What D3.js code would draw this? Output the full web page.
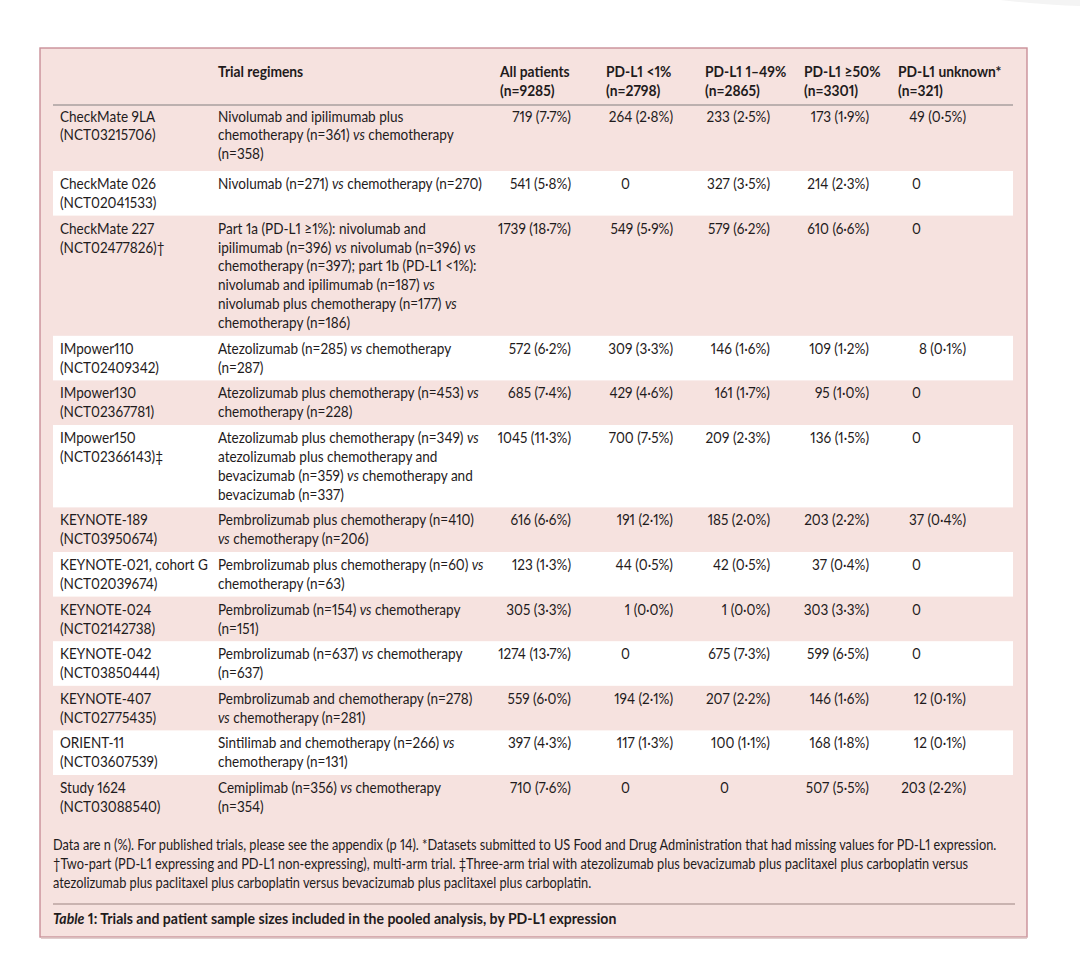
<!DOCTYPE html>
<html>
<head>
<meta charset="utf-8">
<script src="https://cdn.jsdelivr.net/npm/d3@7"></script>
<style>
  html, body { margin: 0; padding: 0; background: #ffffff; }
  svg { display: block; }
  text { font-family: Lato, "Noto Sans", sans-serif; fill: #1f1b1c;
         font-variant-numeric: proportional-nums; font-feature-settings: "pnum" 1; }
</style>
</head>
<body>
<svg id="chart" width="1080" height="954"></svg>
<script>
// ---------------- DATA ----------------
const trials = ["CheckMate 9LA", "CheckMate 026", "CheckMate 227", "IMpower110", "IMpower130", "IMpower150",
  "KEYNOTE-189", "KEYNOTE-021, cohort G", "KEYNOTE-024", "KEYNOTE-042", "KEYNOTE-407", "ORIENT-11", "Study 1624"];
const trialIds = ["(NCT03215706)", "(NCT02041533)", "(NCT02477826)†", "(NCT02409342)", "(NCT02367781)", "(NCT02366143)‡",
  "(NCT03950674)", "(NCT02039674)", "(NCT02142738)", "(NCT03850444)", "(NCT02775435)", "(NCT03607539)", "(NCT03088540)"];
const regimens = [
  ["Nivolumab and ipilimumab plus", "chemotherapy (n=361) vs chemotherapy", "(n=358)"],
  ["Nivolumab (n=271) vs chemotherapy (n=270)"],
  ["Part 1a (PD-L1 ≥1%): nivolumab and", "ipilimumab (n=396) vs nivolumab (n=396) vs", "chemotherapy (n=397); part 1b (PD-L1 <1%):",
   "nivolumab and ipilimumab (n=187) vs", "nivolumab plus chemotherapy (n=177) vs", "chemotherapy (n=186)"],
  ["Atezolizumab (n=285) vs chemotherapy", "(n=287)"],
  ["Atezolizumab plus chemotherapy (n=453) vs", "chemotherapy (n=228)"],
  ["Atezolizumab plus chemotherapy (n=349) vs", "atezolizumab plus chemotherapy and", "bevacizumab (n=359) vs chemotherapy and", "bevacizumab (n=337)"],
  ["Pembrolizumab plus chemotherapy (n=410)", "vs chemotherapy (n=206)"],
  ["Pembrolizumab plus chemotherapy (n=60) vs", "chemotherapy (n=63)"],
  ["Pembrolizumab (n=154) vs chemotherapy", "(n=151)"],
  ["Pembrolizumab (n=637) vs chemotherapy", "(n=637)"],
  ["Pembrolizumab and chemotherapy (n=278)", "vs chemotherapy (n=281)"],
  ["Sintilimab and chemotherapy (n=266) vs", "chemotherapy (n=131)"],
  ["Cemiplimab (n=356) vs chemotherapy", "(n=354)"]
];
const allN    = [719, 541, 1739, 572, 685, 1045, 616, 123, 305, 1274, 559, 397, 710];
const allPct  = [7.7, 5.8, 18.7, 6.2, 7.4, 11.3, 6.6, 1.3, 3.3, 13.7, 6.0, 4.3, 7.6];
const lt1N    = [264, 0, 549, 309, 429, 700, 191, 44, 1, 0, 194, 117, 0];
const lt1Pct  = [2.8, null, 5.9, 3.3, 4.6, 7.5, 2.1, 0.5, 0.0, null, 2.1, 1.3, null];
const midN    = [233, 327, 579, 146, 161, 209, 185, 42, 1, 675, 207, 100, 0];
const midPct  = [2.5, 3.5, 6.2, 1.6, 1.7, 2.3, 2.0, 0.5, 0.0, 7.3, 2.2, 1.1, null];
const hiN     = [173, 214, 610, 109, 95, 136, 203, 37, 303, 599, 146, 168, 507];
const hiPct   = [1.9, 2.3, 6.6, 1.2, 1.0, 1.5, 2.2, 0.4, 3.3, 6.5, 1.6, 1.8, 5.5];
const unkN    = [49, 0, 0, 8, 0, 0, 37, 0, 0, 0, 12, 12, 203];
const unkPct  = [0.5, null, null, 0.1, null, null, 0.4, null, null, null, 0.1, 0.1, 2.2];

const columnKeys = ["all", "lt1", "mid", "hi", "unk"];
const columnHeads = [["All patients", "(n=9285)"], ["PD-L1 <1%", "(n=2798)"], ["PD-L1 1–49%", "(n=2865)"],
  ["PD-L1 ≥50%", "(n=3301)"], ["PD-L1 unknown*", "(n=321)"]];
const regimenHead = "Trial regimens";
const footnotes = [
  "Data are n (%). For published trials, please see the appendix (p 14). *Datasets submitted to US Food and Drug Administration that had missing values for PD-L1 expression.",
  "†Two-part (PD-L1 expressing and PD-L1 non-expressing), multi-arm trial. ‡Three-arm trial with atezolizumab plus bevacizumab plus paclitaxel plus carboplatin versus",
  "atezolizumab plus paclitaxel plus carboplatin versus bevacizumab plus paclitaxel plus carboplatin."
];
const captionLabel = "Table";
const captionText = " 1: Trials and patient sample sizes included in the pooled analysis, by PD-L1 expression";

// ---------------- LAYOUT ----------------
const svg = d3.select("#chart");
const box = { x: 40, y: 48, w: 987, h: 889 };
const innerL = 53, innerR = 1013;
const LH = 18.9, PAD = 6.8;
const SX = 0.88;                     // horizontal condensing of the type
const bodyFS = 15.4, headFS = 15.7, noteFS = 14.5, capFS = 16.0;

const counts = { all: allN, lt1: lt1N, mid: midN, hi: hiN, unk: unkN };
const pcts = { all: allPct, lt1: lt1Pct, mid: midPct, hi: hiPct, unk: unkPct };

const xRight = d3.scaleOrdinal().domain(columnKeys).range([571, 673, 770, 869, 966]);   // right edge of "n (%)"
const xZero  = d3.scaleOrdinal().domain(columnKeys).range([531, 630, 729, 829, 921]);   // right edge of a bare count
const xHead  = d3.scaleOrdinal().domain(columnKeys).range([500, 606, 705, 804, 898]);
const xTrial = 60, xReg = 218;

const fmtPct = v => "(" + d3.format(".1f")(v).replace(".", "·") + "%)";

function place(sel, x, y) {
  return sel.attr("transform", `translate(${x},${y}) scale(${SX},1)`);
}

// row geometry from line counts
const rows = trials.map((t, i) => ({ i, lines: Math.max(2, regimens[i].length) }));
let yAcc = 103.5;
rows.forEach((r, i) => {
  r.top = yAcc;
  r.h = r.lines * LH + PAD + (i === 0 ? 4 : 0);
  yAcc += r.h;
});
const yRow = d3.scaleOrdinal().domain(rows.map(r => r.i)).range(rows.map(r => r.top));

// ---------------- DRAW ----------------
// faint page curl at the top right
svg.append("path").attr("d", "M1000,0 L1080,0 L1080,6 Q1045,5 1000,0 Z").attr("fill", "#f4f4f4");

// panel
svg.append("rect").attr("x", box.x).attr("y", box.y).attr("width", box.w).attr("height", box.h)
  .attr("fill", "#f6e2df").attr("stroke", "#c98f98").attr("stroke-width", 1.4);
svg.append("line").attr("x1", box.x + 1).attr("x2", box.x + box.w).attr("y1", box.y + box.h + 0.8).attr("y2", box.y + box.h + 0.8)
  .attr("stroke", "#d9bcbc").attr("stroke-width", 2);

// white bands on alternate rows
svg.append("g").selectAll("rect").data(rows.filter(r => r.i % 2 === 1)).join("rect")
  .attr("x", innerL).attr("width", innerR - innerL)
  .attr("y", d => yRow(d.i)).attr("height", d => d.h)
  .attr("fill", "#ffffff");

// header
const hdr = svg.append("g").attr("font-weight", 700).attr("font-size", headFS);
place(hdr.append("text"), xReg, 77).text(regimenHead);
columnKeys.forEach((k, ci) => {
  columnHeads[ci].forEach((line, li) => {
    place(hdr.append("text"), xHead(k), 77 + li * 19).text(line);
  });
});
svg.append("line").attr("x1", innerL).attr("x2", innerR).attr("y1", 105).attr("y2", 105)
  .attr("stroke", "#a89f9f").attr("stroke-width", 1.3);

// body rows
const body = svg.append("g").attr("font-size", bodyFS);
const rowG = body.selectAll("g.row").data(rows).join("g").attr("class", "row")
  .attr("transform", d => `translate(0,${yRow(d.i) + 18})`);

rowG.each(function (d) {
  const g = d3.select(this);
  place(g.append("text"), xTrial, 0).text(trials[d.i]);
  place(g.append("text"), xTrial, LH).text(trialIds[d.i]);
  regimens[d.i].forEach((line, li) => {
    const t = place(g.append("text"), xReg, li * LH);
    line.split(/(\bvs\b)/).forEach(part => {
      if (!part) return;
      t.append("tspan").attr("font-style", part === "vs" ? "italic" : null).text(part);
    });
  });
  columnKeys.forEach(k => {
    const n = counts[k][d.i], p = pcts[k][d.i];
    if (p === null) {
      place(g.append("text"), xZero(k), 0).attr("text-anchor", "end").text(n);
    } else {
      place(g.append("text"), xRight(k), 0).attr("text-anchor", "end").text(n + " " + fmtPct(p));
    }
  });
});

// footnotes
const notes = svg.append("g").attr("font-size", noteFS);
footnotes.forEach((f, i) => place(notes.append("text"), innerL, 850 + i * 19.2).text(f));

svg.append("line").attr("x1", innerL).attr("x2", 1015).attr("y1", 904).attr("y2", 904)
  .attr("stroke", "#c9b3b0").attr("stroke-width", 2);

const cap = place(svg.append("text"), innerL, 924).attr("font-size", capFS).attr("font-weight", 700);
cap.append("tspan").attr("font-style", "italic").text(captionLabel);
cap.append("tspan").text(captionText);
</script>
</body>
</html>
